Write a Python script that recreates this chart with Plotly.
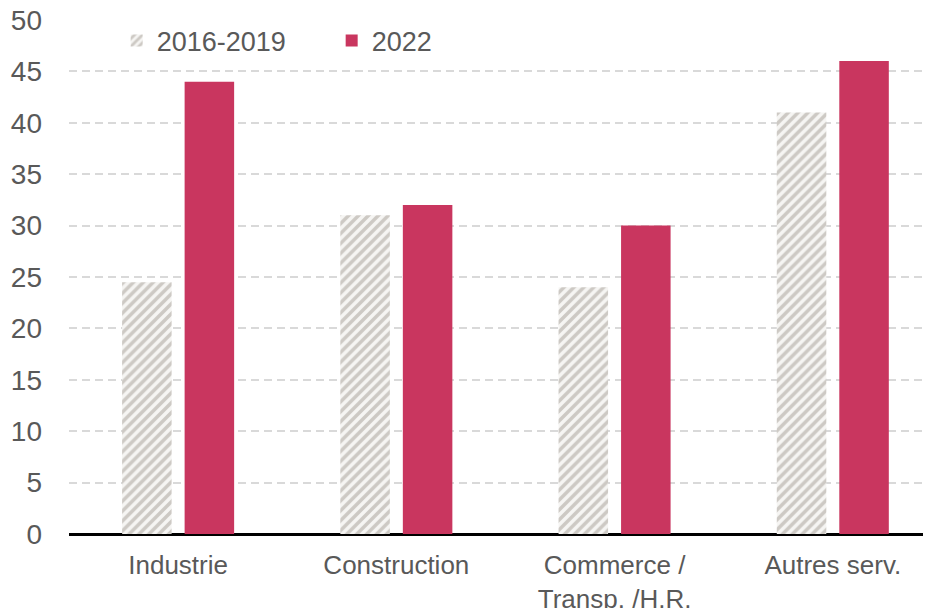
import plotly.graph_objects as go

categories = ["Industrie", "Construction", "Commerce /<br>Transp. /H.R.", "Autres serv."]
series_names = ["2016-2019", "2022"]
values_2016_2019 = [24.5, 31, 24, 41]
values_2022 = [44, 32, 30, 46]
y_ticks = [0, 5, 10, 15, 20, 25, 30, 35, 40, 45, 50]

FONT = "Liberation Sans, Arial, sans-serif"
GREY_TXT = "#595959"

fig = go.Figure()
fig.add_trace(go.Bar(
    x=categories, y=values_2016_2019, name=series_names[0],
    marker=dict(color="white", line=dict(width=0),
                pattern=dict(shape="/", fgcolor="#a39e96", bgcolor="#f6f5f3", size=7, solidity=0.5)),
))
fig.add_trace(go.Bar(
    x=categories, y=values_2022, name=series_names[1],
    marker=dict(color="#C9365F", line=dict(width=0)),
))

# the page body adds an 8px offset, so the figure is 8px smaller and margins compensate
fig.update_layout(
    width=923, height=600,
    margin=dict(l=61, r=0, t=12, b=74, autoexpand=False),
    paper_bgcolor="white", plot_bgcolor="white",
    barmode="group", bargap=0.427, bargroupgap=0.208,
    font=dict(family=FONT, size=27, color=GREY_TXT),
    showlegend=True,
    legend=dict(orientation="h", x=0.0553, y=0.959, xanchor="left", yanchor="middle",
                bgcolor="rgba(0,0,0,0)", font=dict(size=27, color=GREY_TXT),
                entrywidth=170, entrywidthmode="pixels", itemwidth=30),
)
fig.update_xaxes(
    type="category", range=[-0.5, 3.45], automargin=False,
    showline=True, linecolor="black", linewidth=1.5,
    ticks="", ticklabelstandoff=7,
    tickfont=dict(size=26, color=GREY_TXT), showgrid=False,
)
fig.update_yaxes(
    range=[0, 50], tickvals=y_ticks, automargin=False,
    showgrid=True, gridcolor="#d9d9d9", gridwidth=1.5, griddash="8px,5px",
    zeroline=True, zerolinecolor="black", zerolinewidth=1.5,
    ticks="", ticklabelstandoff=26, ticklabeloverflow="allow",
    tickfont=dict(size=28, color=GREY_TXT), showline=False,
)

fig.write_html("out.html")
